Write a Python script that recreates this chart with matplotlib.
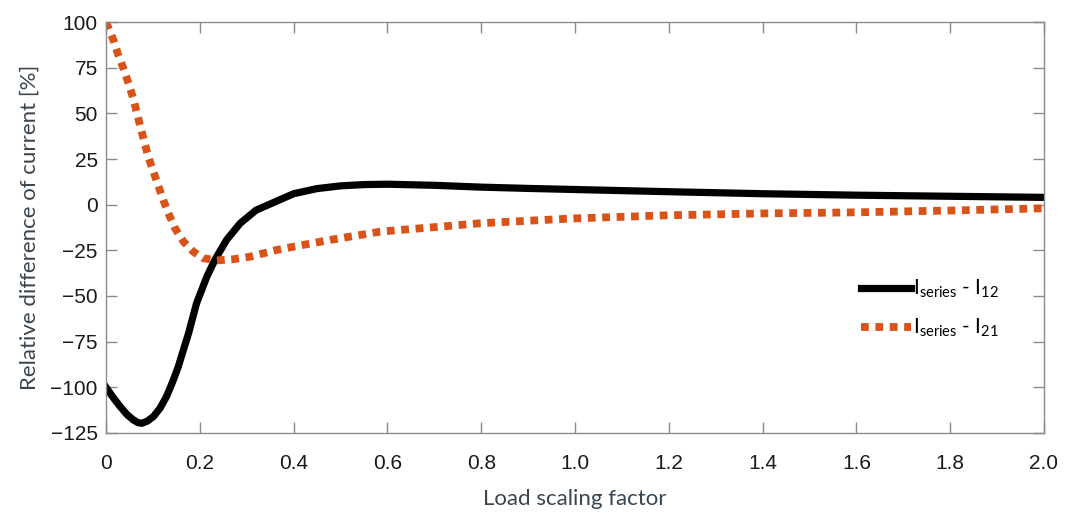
import matplotlib
matplotlib.use("Agg")
import matplotlib.pyplot as plt

# =========================
# DATA
# =========================
x_12 = [0, 0.015, 0.03, 0.045, 0.058, 0.068, 0.076, 0.088, 0.101, 0.115,
        0.129, 0.142, 0.154, 0.165, 0.176, 0.193, 0.215, 0.232, 0.257, 0.286,
        0.32, 0.36, 0.40, 0.45, 0.50, 0.55, 0.6, 0.7, 0.8, 0.9, 1.0, 1.2,
        1.4, 1.6, 1.8, 2.0]
y_12 = [-100, -105.5, -110.5, -115, -117.8, -119.3, -119.7, -118.5, -116, -111.5,
        -105, -97, -88.7, -79.5, -70.4, -54, -39.4, -30.3, -19.3, -10.2,
        -3, 1.5, 6, 8.8, 10.3, 11, 11.2, 10.6, 9.6, 8.9, 8.3, 7.1,
        6, 5.2, 4.6, 4.0]

x_21 = [0, 0.008, 0.016, 0.026, 0.037, 0.048, 0.058, 0.069, 0.080, 0.090,
        0.101, 0.112, 0.122, 0.133, 0.147, 0.165, 0.186, 0.207, 0.236, 0.271,
        0.307, 0.364, 0.40, 0.478, 0.584, 0.7, 0.797, 0.9, 1.0, 1.2,
        1.4, 1.6, 1.8, 2.0]
y_21 = [100, 95, 90, 82, 74.6, 66.4, 58.2, 47, 36, 26.3,
        18.1, 9.9, 2.6, -4.7, -12.9, -20.2, -25.7, -29.3, -30.5, -29.9,
        -28.5, -24.8, -23, -19.3, -14.8, -12.3, -10.2, -8.8, -7.5, -5.8,
        -4.8, -4.2, -3.2, -2.0]

x_ticks = [0, 0.2, 0.4, 0.6, 0.8, 1.0, 1.2, 1.4, 1.6, 1.8, 2.0]
x_tick_labels = ["0", "0.2", "0.4", "0.6", "0.8", "1.0", "1.2", "1.4", "1.6", "1.8", "2.0"]
y_ticks = [-125, -100, -75, -50, -25, 0, 25, 50, 75, 100]

# =========================
# STYLE
# =========================
plt.rcParams["mathtext.fontset"] = "custom"
plt.rcParams["mathtext.rm"] = "Lato"
plt.rcParams["mathtext.it"] = "Lato"

label_color = "#3a4550"
spine_color = "#8a8a8a"
orange = "#d95319"

fig = plt.figure(figsize=(10.70, 5.17), dpi=100)
ax = fig.add_axes([0.0991, 0.1625, 0.9757 - 0.0991, 0.9574 - 0.1625])

ax.plot(x_12, y_12, color="black", lw=5.2, solid_joinstyle="round",
        label=r"I$_{\mathrm{series}}$ - I$_{12}$")
ax.plot(x_21, y_21, color=orange, lw=5.6, linestyle=(0, (1, 0.85)),
        dash_capstyle="butt", label=r"I$_{\mathrm{series}}$ - I$_{21}$")

ax.set_xlim(0, 2.0)
ax.set_ylim(-125, 100)
ax.set_xticks(x_ticks)
ax.set_xticklabels(x_tick_labels)
ax.set_yticks(y_ticks)

for s in ax.spines.values():
    s.set_color(spine_color)
    s.set_linewidth(1.0)

ax.tick_params(axis="both", direction="in", length=8, width=1, color=spine_color,
               top=True, right=True, labelsize=15, labelcolor="#1a1a1a")
ax.tick_params(axis="x", pad=15)
ax.tick_params(axis="y", pad=6)
for lab in ax.get_xticklabels() + ax.get_yticklabels():
    lab.set_family("Liberation Sans")

ax.set_xlabel("Load scaling factor", fontsize=16, family="Lato",
              color=label_color, labelpad=12)
ax.set_ylabel("Relative difference of current [%]", fontsize=16, family="Lato",
              color=label_color, labelpad=8)

leg = ax.legend(loc="center left", bbox_to_anchor=(0.785, 0.303), frameon=False,
                handlelength=2.4, handletextpad=0.1, labelspacing=0.8,
                prop={"family": "Lato", "size": 15})

fig.savefig("out.png", dpi=100)
